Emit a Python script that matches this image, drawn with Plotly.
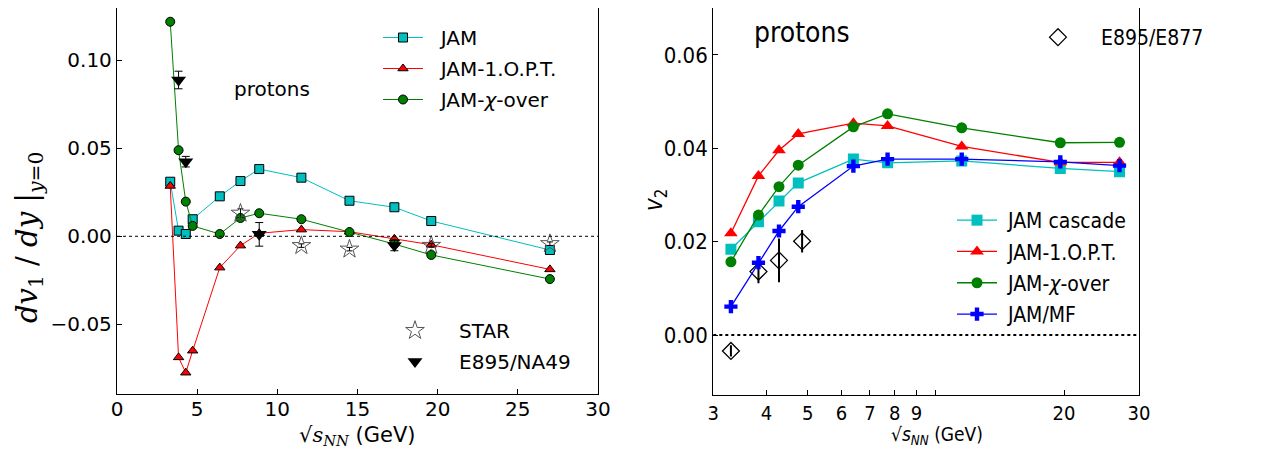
import plotly.graph_objects as go

# ---------------- data: left panel (dv1/dy) ----------------
sqrt_s_left = [3.32, 3.84, 4.29, 4.72, 6.41, 7.7, 8.87, 11.5, 14.5, 17.3, 19.6, 27.0]
jam_dv1 = [0.031, 0.0032, 0.0013, 0.0097, 0.0227, 0.0314, 0.0382, 0.0333, 0.0202, 0.0165, 0.0087, -0.0078]
opt_dv1 = [0.0286, -0.0688, -0.0775, -0.065, -0.0178, -0.0053, 0.0017, 0.0038, 0.0026, -0.0014, -0.0048, -0.0188]
xover_dv1 = [0.1219, 0.0489, 0.0197, 0.0059, 0.0013, 0.0104, 0.0131, 0.0097, 0.0024, -0.0044, -0.0106, -0.0243]

star_x = [7.7, 11.5, 14.5, 19.6, 27.0]
star_y = [0.0131, -0.0053, -0.0073, -0.0052, -0.0042]
star_err = [0.0025, 0.001, 0.001, 0.001, 0.001]

e895_x = [3.84, 4.29, 8.87, 17.3]
e895_y = [0.0888, 0.0424, 0.0011, -0.0052]
e895_err = [0.005, 0.003, 0.0067, 0.003]

# ---------------- data: right panel (v2) ----------------
sqrt_s_right = [3.3, 3.83, 4.28, 4.75, 6.4, 7.7, 11.5, 19.6, 27.0]
cascade_v2 = [0.0184, 0.0243, 0.0287, 0.0326, 0.0377, 0.0369, 0.0373, 0.0357, 0.035]
opt_v2 = [0.0218, 0.0341, 0.0396, 0.0431, 0.0454, 0.0448, 0.0404, 0.037, 0.037]
xover_v2 = [0.0157, 0.0257, 0.0318, 0.0364, 0.0446, 0.0474, 0.0444, 0.0412, 0.0413]
mf_v2 = [0.0061, 0.0155, 0.0223, 0.0275, 0.0362, 0.0377, 0.0377, 0.0371, 0.0363]

exp_x = [3.3, 3.83, 4.28, 4.85]
exp_y = [-0.0034, 0.0136, 0.016, 0.0201]
exp_err = [0.0012, 0.0025, 0.0047, 0.0024]

left_xticks = [0, 5, 10, 15, 20, 25, 30]
left_yticks = [-0.05, 0.0, 0.05, 0.10]
left_yticktext = ["−0.05", "0.00", "0.05", "0.10"]
right_xticks = [3, 4, 5, 6, 7, 8, 9, 10, 20, 30]
right_xticktext = ["3", "4", "5", "6", "7", "8", "9", "", "20", "30"]
right_yticks = [0.0, 0.02, 0.04, 0.06]
right_yticktext = ["0.00", "0.02", "0.04", "0.06"]

CYAN = "#00BFBF"
RED = "#FF0000"
GREEN = "#008000"
BLUE = "#0000FF"

# page has an 8px body margin; figure sized to fit the window inside it
OFF = 8
W, H = 1268 - 2 * OFF, 457 - 2 * OFF


def px(x):
    return (x - OFF) / W


def py(y):
    return 1 - (y - OFF) / H


FONT = "DejaVu Sans"
FONT_R = "DejaVu Sans Condensed, DejaVu Sans"
NB = "\u00a0"

fig = go.Figure()

# ---------- left traces ----------
fig.add_trace(go.Scatter(x=sqrt_s_left, y=jam_dv1, name=NB * 2 + "JAM", mode="lines+markers",
                         line=dict(color=CYAN, width=1),
                         marker=dict(symbol="square", size=9, color=CYAN, line=dict(color="black", width=1)),
                         xaxis="x", yaxis="y", legend="legend", legendgroup="a"))
fig.add_trace(go.Scatter(x=sqrt_s_left, y=opt_dv1, name=NB * 2 + "JAM-1.O.P.T.", mode="lines+markers",
                         line=dict(color=RED, width=1),
                         marker=dict(symbol="triangle-up", size=9, color=RED, line=dict(color="black", width=1)),
                         xaxis="x", yaxis="y", legend="legend", legendgroup="b"))
fig.add_trace(go.Scatter(x=sqrt_s_left, y=xover_dv1, name=NB * 2 + "JAM-<i>χ</i>-over", mode="lines+markers",
                         line=dict(color=GREEN, width=1),
                         marker=dict(symbol="circle", size=9, color=GREEN, line=dict(color="black", width=1)),
                         xaxis="x", yaxis="y", legend="legend", legendgroup="c"))
fig.add_trace(go.Scatter(x=star_x, y=star_y, name=NB * 3 + "STAR", mode="markers",
                         marker=dict(symbol="star-open", size=14, color="#555555", line=dict(width=1)),
                         error_y=dict(type="data", array=star_err, color="black", thickness=1, width=3),
                         xaxis="x", yaxis="y", legend="legend2", legendgroup="d"))
fig.add_trace(go.Scatter(x=e895_x, y=e895_y, name=NB * 3 + "E895/NA49", mode="markers",
                         marker=dict(symbol="triangle-down", size=13, color="black"),
                         error_y=dict(type="data", array=e895_err, color="black", thickness=1, width=4),
                         xaxis="x", yaxis="y", legend="legend2", legendgroup="e"))

# ---------- right traces ----------
fig.add_trace(go.Scatter(x=exp_x, y=exp_y, name=NB * 3 + "E895/E877", mode="markers",
                         marker=dict(symbol="diamond-open", size=13, color="black", line=dict(width=1.3)),
                         error_y=dict(type="data", array=exp_err, color="black", thickness=2, width=0),
                         xaxis="x2", yaxis="y2", legend="legend3"))
fig.add_trace(go.Scatter(x=sqrt_s_right, y=cascade_v2, name=NB + "JAM cascade", mode="lines+markers",
                         line=dict(color=CYAN, width=1.3),
                         marker=dict(symbol="square", size=11, color=CYAN),
                         xaxis="x2", yaxis="y2", legend="legend4", legendgroup="f"))
fig.add_trace(go.Scatter(x=sqrt_s_right, y=opt_v2, name=NB + "JAM-1.O.P.T.", mode="lines+markers",
                         line=dict(color=RED, width=1.3),
                         marker=dict(symbol="triangle-up", size=12, color=RED),
                         xaxis="x2", yaxis="y2", legend="legend4", legendgroup="g"))
fig.add_trace(go.Scatter(x=sqrt_s_right, y=xover_v2, name=NB + "JAM-<i>χ</i>-over", mode="lines+markers",
                         line=dict(color=GREEN, width=1.3),
                         marker=dict(symbol="circle", size=11, color=GREEN),
                         xaxis="x2", yaxis="y2", legend="legend4", legendgroup="h"))
fig.add_trace(go.Scatter(x=sqrt_s_right, y=mf_v2, name=NB + "JAM/MF", mode="lines+markers",
                         line=dict(color=BLUE, width=1.3),
                         marker=dict(symbol="cross", size=11, color=BLUE),
                         xaxis="x2", yaxis="y2", legend="legend4", legendgroup="i"))

axis_common = dict(showline=True, linecolor="black", linewidth=1.3, mirror=True,
                   ticks="inside", ticklen=5, tickcolor="black", showgrid=False, zeroline=False)

legend_common = dict(xanchor="left", yanchor="top", bgcolor="rgba(0,0,0,0)",
                     traceorder="grouped", itemwidth=40)


def ann(text, x, y, size, family=FONT, angle=0):
    return dict(text=text, x=px(x), y=py(y), xref="paper", yref="paper", showarrow=False,
                xanchor="center", yanchor="middle", textangle=angle, borderpad=0,
                font=dict(size=size, family=family, color="black"))


fig.update_layout(
    width=W, height=H,
    margin=dict(l=0, r=0, t=0, b=0, autoexpand=False),
    paper_bgcolor="white", plot_bgcolor="white",
    font=dict(family=FONT, color="black"),
    showlegend=True,
    xaxis=dict(domain=[px(117), px(598)], range=[0, 30], tickvals=left_xticks,
               tickfont=dict(size=20, family=FONT), anchor="y", ticklabelstandoff=-3, **axis_common),
    yaxis=dict(domain=[py(394), py(8)], range=[-0.0896, 0.1297], tickvals=left_yticks,
               ticktext=left_yticktext, tickfont=dict(size=20, family=FONT), anchor="x", **axis_common),
    xaxis2=dict(domain=[px(713.3), px(1139)], type="log", range=[0.47712, 1.47712],
                tickvals=right_xticks, ticktext=right_xticktext,
                tickfont=dict(size=20, family=FONT_R), anchor="y2",
                showline=True, linecolor="black", linewidth=1.3, mirror=True,
                ticks="inside", ticklen=5, tickcolor="black", showgrid=False, zeroline=False),
    yaxis2=dict(domain=[py(395.3), py(8.3)], range=[-0.0129, 0.0700], tickvals=right_yticks,
                ticktext=right_yticktext, tickfont=dict(size=22, family=FONT_R), anchor="x2", **axis_common),
    legend=dict(x=px(378), y=py(18), font=dict(size=20, family=FONT), tracegroupgap=2, **legend_common),
    legend2=dict(x=px(390), y=py(311), font=dict(size=20, family=FONT), tracegroupgap=2, **legend_common),
    legend3=dict(x=px(1033), y=py(17), font=dict(size=21, family=FONT_R), **legend_common),
    legend4=dict(x=px(952), y=py(200), font=dict(size=21, family=FONT_R), tracegroupgap=1, **legend_common),
    shapes=[
        dict(type="line", xref="x domain", yref="y", x0=0, x1=1, y0=0, y1=0,
             line=dict(color="black", width=1, dash="dot")),
        dict(type="line", xref="x2 domain", yref="y2", x0=0, x1=1, y0=0, y1=0,
             line=dict(color="black", width=2, dash="dot")),
    ],
    annotations=[
        ann("protons", 272, 89, 20),
        ann("protons", 802, 33, 28, FONT_R),
        ann("<i>dv</i><sub>1</sub> / <i>dy</i> |<sub><i>y</i>=0</sub>", 29, 238, 29, "DejaVu Serif", -90),
        ann("√<i style='font-family:DejaVu Serif'>s</i><sub><i style='font-family:DejaVu Serif'>NN</i></sub> (GeV)",
            357, 436, 21),
        ann("<i>v</i><sub>2</sub>", 655, 200, 24, FONT_R, -90),
        ann("√<i>s</i><sub><i>NN</i></sub> (GeV)", 937, 435, 19, FONT_R),
    ],
)

fig.write_html("out.html")
